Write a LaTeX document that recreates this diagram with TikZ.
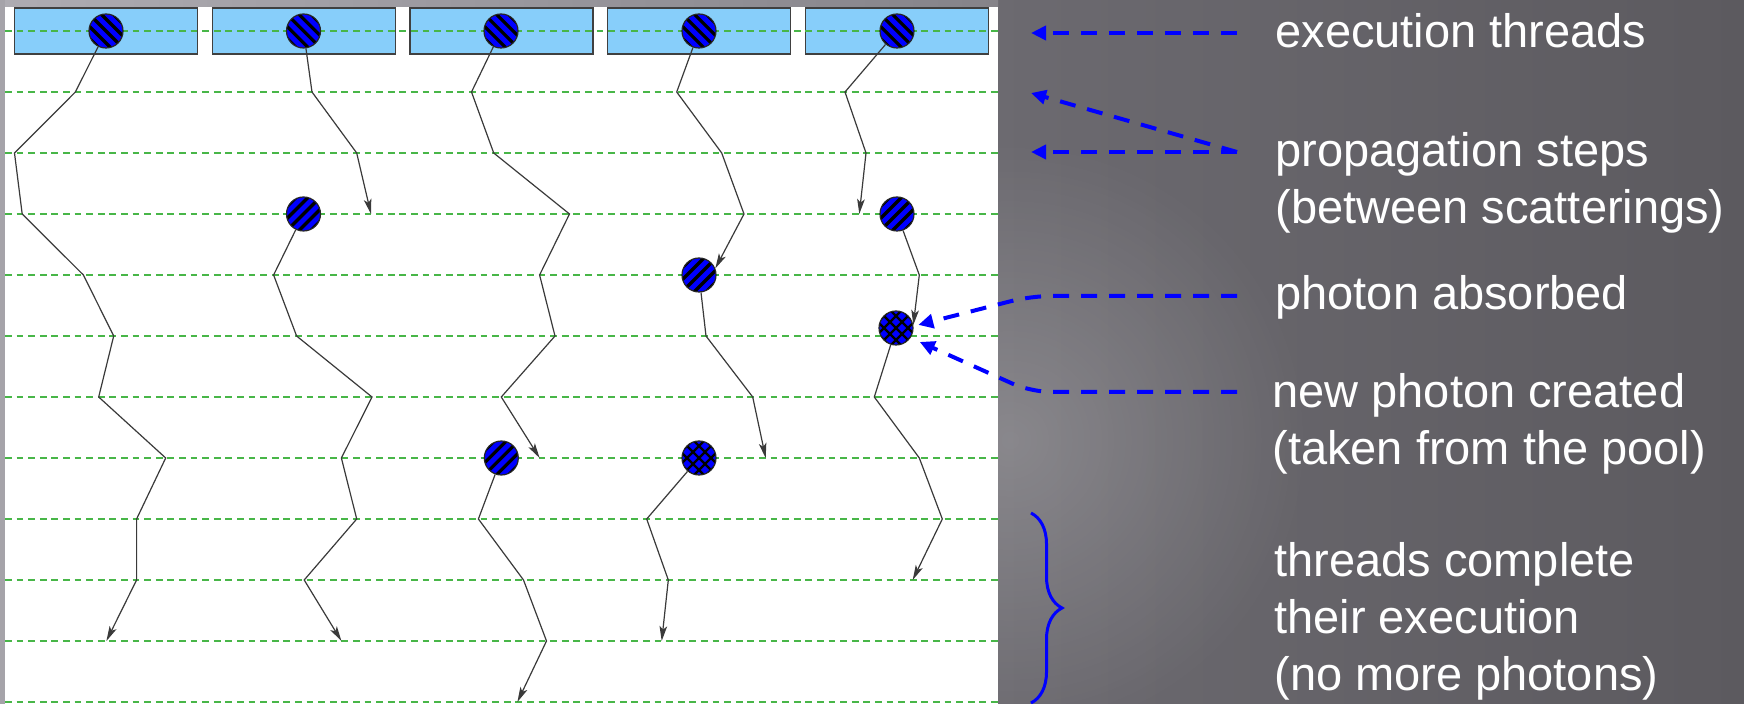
\documentclass[tikz,border=0pt]{standalone}
\usepackage{fontspec}
\setmainfont{Liberation Sans}
\usetikzlibrary{arrows.meta,decorations.pathreplacing,fadings}
\definecolor{boxblue}{HTML}{87CEFA}
\definecolor{gridgreen}{RGB}{72,182,72}
\definecolor{trailgray}{HTML}{3A3A3A}
\definecolor{bgdark}{HTML}{5C5A5F}
\definecolor{bgmid}{HTML}{6C6A70}
\definecolor{striplight}{HTML}{AEACB2}
\definecolor{stripdark}{HTML}{858389}
\tikzfading[name=glowfade, inner color=transparent!0, outer color=transparent!100]
\tikzset{
  threadbox/.style={rectangle, draw=black!75, line width=0.75pt, fill=boxblue, minimum width=91.5pt, minimum height=23pt, inner sep=0pt},
  gridline/.style={gridgreen, line width=0.75pt, dash pattern=on 3.4pt off 2.4pt},
  photon/.style={circle, draw=black!85, line width=0.6pt, fill=blue, minimum size=17pt, inner sep=0pt},
  stripesNW/.style={path picture={
    \foreach \d in {-18,-12,...,18}{
      \draw[black, line width=1.6pt] ([xshift={\d*1pt-16pt}, yshift=16pt]path picture bounding box.center) -- ([xshift={\d*1pt+16pt}, yshift=-16pt]path picture bounding box.center);
    }}},
  stripesNE/.style={path picture={
    \foreach \d in {-18,-12,...,18}{
      \draw[black, line width=1.6pt] ([xshift={\d*1pt-16pt}, yshift=-16pt]path picture bounding box.center) -- ([xshift={\d*1pt+16pt}, yshift=16pt]path picture bounding box.center);
    }}},
  stripesX/.style={path picture={
    \foreach \d in {-18,-12,...,18}{
      \draw[black, line width=1.2pt] ([xshift={\d*1pt-16pt}, yshift=-16pt]path picture bounding box.center) -- ([xshift={\d*1pt+16pt}, yshift=16pt]path picture bounding box.center);
      \draw[black, line width=1.2pt] ([xshift={\d*1pt-16pt}, yshift=16pt]path picture bounding box.center) -- ([xshift={\d*1pt+16pt}, yshift=-16pt]path picture bounding box.center);
    }}},
  trail/.style={trailgray, line width=0.6pt, line join=miter, -{Stealth[length=7.5pt, width=3.8pt, inset=1.8pt]}},
  callout/.style={blue, line width=2pt, dash pattern=on 8pt off 6pt, -{Triangle[length=7.5pt, width=7pt]}},
  lbl/.style={white, inner sep=0pt, anchor=base west, font=\fontsize{23.5pt}{28.5pt}\selectfont},
}
\begin{document}
\begin{tikzpicture}[x=0.5pt, y=-0.5pt]
\useasboundingbox (0,0) rectangle (1744,704);
% background
\fill[bgdark] (0,0) rectangle (1744,704);
\shade[left color=bgmid, right color=bgdark] (990,0) rectangle (1744,704);
\fill[white, opacity=0.2, path fading=glowfade] (1010,440) circle (300);
\shade[left color=striplight, right color=stripdark] (0,0) rectangle (998,7);
\fill[striplight!95!black] (0,0) rectangle (5,704);
% panel
\fill[white] (5,7) rectangle (998,704);
% thread boxes
\node[threadbox] (b1) at (106,31) {};
\node[threadbox] (b2) at (304,31) {};
\node[threadbox] (b3) at (501.5,31) {};
\node[threadbox] (b4) at (699,31) {};
\node[threadbox] (b5) at (897,31) {};
% propagation step lines
\foreach \k in {0,...,11} \draw[gridline] (5,{31+61*\k}) -- (998,{31+61*\k});
% photons
\node[photon, stripesNW] (t1) at (106,31) {};
\node[photon, stripesNW] (t2) at (303.5,31) {};
\node[photon, stripesNW] (t3) at (501,31) {};
\node[photon, stripesNW] (t4) at (699,31) {};
\node[photon, stripesNW] (t5) at (897,31) {};
\node[photon, stripesNE] (p2) at (303.5,214) {};
\node[photon, stripesNE] (p5a) at (897,214) {};
\node[photon, stripesNE] (p4a) at (699,275) {};
\node[photon, stripesX] (p5b) at (896,328) {};
\node[photon, stripesNE] (p3) at (501.3,458) {};
\node[photon, stripesX] (p4b) at (699,458) {};
% end points
\coordinate (e1) at (106.4,641);
\coordinate (e2a) at (371,214);
\coordinate (e2b) at (341.4,641);
\coordinate (e3a) at (539.6,458);
\coordinate (e3b) at (517.4,702);
\coordinate (e4b) at (765.7,458);
\coordinate (e4c) at (661.7,641);
\coordinate (e5a) at (859.3,214);
\coordinate (e5c) at (912.7,580);
% trails
\draw[trail] (t1) -- (75.4,92) -- (14.5,153) -- (22.2,214) -- (83.4,275) -- (113.7,336) -- (98.7,397) -- (165.7,458) -- (136.6,519) -- (136.6,580) -- (e1);
\draw[trail] (t2) -- (312,92) -- (356.7,153) -- (e2a);
\draw[trail] (p2) -- (273.6,275) -- (296.6,336) -- (372,397) -- (341.4,458) -- (356.7,519) -- (304.2,580) -- (e2b);
\draw[trail] (t3) -- (471.5,92) -- (493.7,153) -- (569.5,214) -- (539.6,275) -- (555,336) -- (501.3,397) -- (e3a);
\draw[trail] (p3) -- (478.4,519) -- (523.5,580) -- (546.5,641) -- (e3b);
\draw[trail] (t4) -- (676.7,92) -- (721.7,153) -- (744,214) -- (p4a.22);
\draw[trail] (p4a) -- (706,336) -- (752.7,397) -- (e4b);
\draw[trail] (p4b) -- (646.7,519) -- (668.3,580) -- (e4c);
\draw[trail] (t5) -- (845,92) -- (866,153) -- (e5a);
\draw[trail] (p5a) -- (919.3,275) -- (p5b.10);
\draw[trail] (p5b) -- (874.3,397) -- (919.3,458) -- (942.3,519) -- (e5c);
% labels
\node[lbl] (lexe) at (1275,47.7) {execution threads};
\node[lbl] (lprop1) at (1275,166.5) {propagation steps};
\node[lbl] (lprop2) at (1275,223.5) {(between scatterings)};
\node[lbl] (labs) at (1275,310) {photon absorbed};
\node[lbl] (lnew1) at (1272,407.3) {new photon created};
\node[lbl] (lnew2) at (1272,465) {(taken from the pool)};
\node[lbl] (ldone1) at (1274,576.7) {threads complete};
\node[lbl] (ldone2) at (1274,633.3) {their execution};
\node[lbl] (ldone3) at (1274,690) {(no more photons)};
% callout coordinates
\coordinate (cexe) at (1237,33);
\coordinate (cexetip) at (1031,33);
\coordinate (cprop) at (1237,152);
\coordinate (cproptipA) at (1031,93);
\coordinate (cproptipB) at (1031,152);
\coordinate (cabs) at (1237,296);
\coordinate (cabsbend) at (1031,296);
\coordinate (cnew) at (1237,392);
\coordinate (cnewbend) at (1031,392);
\coordinate (btop) at (1031,513);
\coordinate (bbot) at (1031,703);
% callouts
\draw[callout] (cexe) -- (cexetip);
\draw[callout] (cprop) -- (cproptipA);
\draw[callout] (cprop) -- (cproptipB);
\draw[callout, rounded corners=10pt, shorten >=2.5pt] (cabs) -- (cabsbend) -- (p5b.6);
\draw[callout, rounded corners=10pt, shorten >=5pt] (cnew) -- (cnewbend) -- (p5b.-34);
\draw[blue, line width=1.5pt, decorate, decoration={brace, amplitude=15.5pt}] (btop) -- (bbot);
\end{tikzpicture}
\end{document}
